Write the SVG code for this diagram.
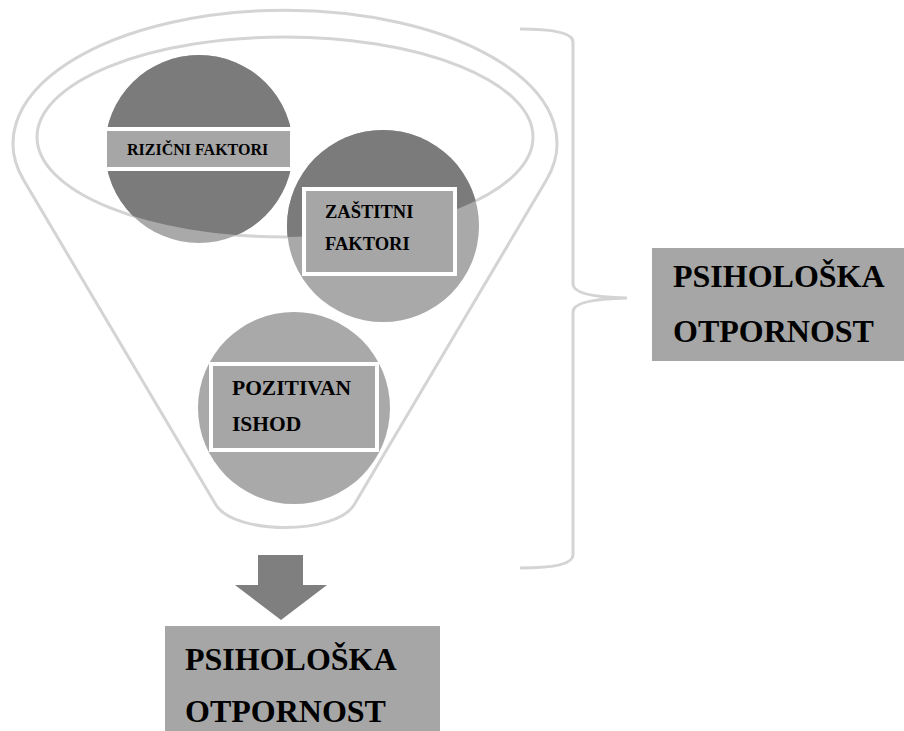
<svg xmlns="http://www.w3.org/2000/svg" width="904" height="731" viewBox="0 0 904 731">
  <style>
    .line { fill: none; stroke: #d4d4d4; stroke-width: 3; }
    .dark { fill: #7b7b7b; }
    .light { fill: #a9a9a9; }
    .box { fill: #a6a6a6; stroke: #ffffff; stroke-width: 4; }
    .big { fill: #a6a6a6; }
    .t { font-family: "Liberation Serif", "Times New Roman", serif; font-weight: bold; fill: #000; }
  </style>
  <defs>
    <clipPath id="inner">
      <ellipse cx="285" cy="137" rx="248" ry="100"/>
    </clipPath>
  </defs>
  <rect width="904" height="731" fill="#ffffff"/>

  <g id="funnel">
    <path class="line" d="M23.6,180 A272,133 0 1 1 546.4,180 L354,505 C335,535 235,535 216,505 Z"/>
    <ellipse class="line" cx="285" cy="137" rx="248" ry="100"/>
  </g>

  <g id="connectors">
    <path class="line" d="M520,29 Q573,29 573,42 L573,284 Q573,297 627,298 Q573,299 573,312 L573,555 Q573,568 520,568"/>
    <path id="arrow" fill="#7f7f7f" d="M258,555 L303,555 L303,585 L327,585 L281,620 L235,585 L258,585 Z"/>
  </g>

  <g id="node-rizicni">
    <circle class="light" cx="199" cy="149" r="94"/>
    <circle class="dark" cx="199" cy="149" r="94" clip-path="url(#inner)"/>
  </g>

  <g id="node-zastitni">
    <circle class="light" cx="383" cy="226" r="96"/>
    <circle class="dark" cx="383" cy="226" r="96" clip-path="url(#inner)"/>
  </g>

  <g id="node-pozitivan">
    <circle class="light" cx="294" cy="408" r="96"/>
  </g>

  <g id="label-rizicni">
    <rect class="box" x="105" y="129" width="187" height="40"/>
    <text class="t" x="127" y="155" font-size="16">RIZIČNI FAKTORI</text>
  </g>

  <g id="label-zastitni">
    <rect class="box" x="304" y="189" width="151" height="85"/>
    <text class="t" x="325" y="218" font-size="18.5">ZAŠTITNI</text>
    <text class="t" x="325" y="250" font-size="18.5">FAKTORI</text>
  </g>

  <g id="label-pozitivan">
    <rect class="box" x="211" y="364" width="166" height="86"/>
    <text class="t" x="232" y="395" font-size="21.5">POZITIVAN</text>
    <text class="t" x="232" y="431" font-size="21.5">ISHOD</text>
  </g>

  <g id="node-otpornost-right">
    <rect class="big" x="652" y="248" width="252" height="113"/>
    <text class="t" x="673" y="287" font-size="32">PSIHOLOŠKA</text>
    <text class="t" x="673" y="342" font-size="32">OTPORNOST</text>
  </g>

  <g id="node-otpornost-bottom">
    <rect class="big" x="165" y="626" width="275" height="105"/>
    <text class="t" x="185" y="670" font-size="32">PSIHOLOŠKA</text>
    <text class="t" x="185" y="722" font-size="32">OTPORNOST</text>
  </g>
</svg>
